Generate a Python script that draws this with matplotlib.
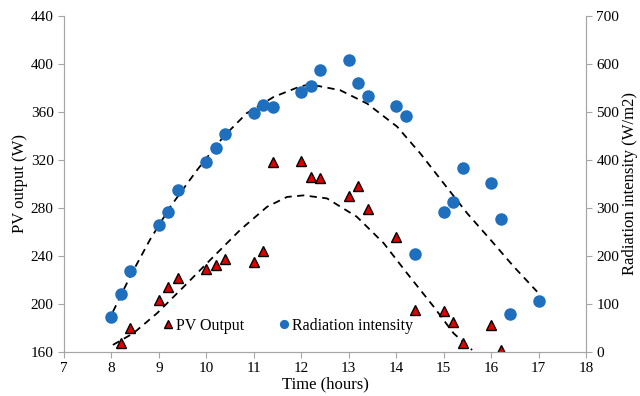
import numpy as np
import matplotlib.pyplot as plt

plt.rcParams['font.family'] = ['Liberation Serif', 'DejaVu Serif']

# radiation intensity (W/m2)
t_rad = [8.0, 8.2, 8.4, 9.0, 9.2, 9.4, 10.0, 10.2, 10.4, 11.0, 11.2, 11.4, 12.0, 12.2, 12.4,
         13.0, 13.2, 13.4, 14.0, 14.2, 14.4, 15.0, 15.2, 15.4, 16.0, 16.2, 16.4, 17.0]
rad = [73, 121, 168, 265, 292, 338, 396, 425, 453, 498, 515, 510, 542, 554, 588,
       607, 559, 533, 512, 492, 204, 292, 312, 383, 351, 277, 78, 105]

# PV output (W)
t_pv = [8.2, 8.4, 9.0, 9.2, 9.4, 10.0, 10.2, 10.4, 11.0, 11.2, 11.4, 12.0, 12.2, 12.4,
        13.0, 13.2, 13.4, 14.0, 14.4, 15.0, 15.2, 15.4, 16.0, 16.2]
pv = [167, 180, 203, 214, 221, 229, 232, 237, 235, 244, 318, 319, 306, 305,
      290, 298, 279, 256, 195, 194, 185, 167, 182, 161]

# trend lines
t_rad_trend = [8.03, 8.39, 8.81, 9.24, 9.80, 10.36, 10.85, 11.42, 11.98, 12.19, 12.82,
               13.39, 14.02, 14.51, 15.00, 15.50, 15.99, 16.48, 16.97]
rad_trend = [83, 156, 233, 302, 378, 448, 497, 531, 553, 557, 545,
             517, 469, 413, 351, 288, 233, 177, 125]
t_pv_trend = [8.03, 8.46, 8.96, 9.52, 10.08, 10.71, 11.28, 11.70, 12.05, 12.54,
              13.17, 13.74, 14.23, 14.79, 15.21, 15.60]
pv_trend = [165.6, 175.3, 192, 214, 236.4, 261.4, 280.8, 289, 290.3, 287.8,
            272.5, 250.3, 225.3, 197.5, 175.3, 161.4]

fig, ax = plt.subplots(figsize=(6.4, 3.96), dpi=100)
fig.subplots_adjust(left=0.1, right=0.9156, bottom=0.112, top=0.96)
ax2 = ax.twinx()

ax.plot(t_pv_trend, pv_trend, 'k--', lw=1.3, dashes=(4, 3))
ax2.plot(t_rad_trend, rad_trend, 'k--', lw=1.3, dashes=(4, 3))

ax.plot(t_pv, pv, '^', color='#e00000', mec='black', mew=1, ms=7.5, ls='none', label='PV Output')
ax2.plot(t_rad, rad, 'o', color='#1f6fbf', mec='#1f6fbf', ms=8, ls='none', label='Radiation intensity')

ax.set_xlim(7, 18)
ax.set_ylim(160, 440)
ax2.set_ylim(0, 700)
ax.set_xticks(range(7, 19))
ax.set_yticks(range(160, 441, 40))
ax2.set_yticks(range(0, 701, 100))

for a in (ax, ax2):
    a.spines['top'].set_visible(False)
    for s in a.spines.values():
        s.set_color('#a6a6a6')
    a.tick_params(colors='#a6a6a6', labelcolor='black', labelsize=11, length=4)

ax.set_xlabel('Time (hours)', fontsize=12, labelpad=1)
ax.set_ylabel('PV output (W)', fontsize=12, labelpad=2)
ax2.set_ylabel('Radiation intensity (W/m2)', fontsize=12, labelpad=2)

h1, l1 = ax.get_legend_handles_labels()
h2, l2 = ax2.get_legend_handles_labels()
ax2.legend(h1 + h2, l1 + l2, loc='center', bbox_to_anchor=(0.43, 0.077), ncol=2,
           frameon=False, fontsize=11.5, handlelength=0.6, handletextpad=0.2, columnspacing=2.2,
           markerscale=0.7, borderpad=0)

plt.savefig('out.png')
